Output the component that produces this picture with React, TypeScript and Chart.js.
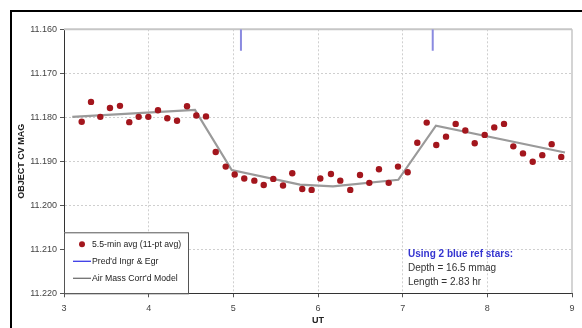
import React, { useEffect, useRef } from "react";
import { Chart, registerables } from "chart.js";
Chart.register(...registerables);

// Observations: UT (hours) and object CV magnitude
const obsUT = [3.209, 3.319, 3.429, 3.543, 3.661, 3.771, 3.882, 3.996, 4.110, 4.220, 4.335, 4.453, 4.563, 4.677, 4.792, 4.910, 5.016, 5.129, 5.248, 5.359, 5.472, 5.587, 5.696, 5.814, 5.925, 6.027, 6.153, 6.263, 6.381, 6.496, 6.606, 6.720, 6.835, 6.945, 7.059, 7.173, 7.284, 7.397, 7.512, 7.626, 7.740, 7.851, 7.969, 8.082, 8.197, 8.307, 8.421, 8.536, 8.649, 8.760, 8.873];
const obsMag = [11.1810, 11.1765, 11.1799, 11.1779, 11.1774, 11.1811, 11.1799, 11.1799, 11.1784, 11.1802, 11.1808, 11.1775, 11.1796, 11.1798, 11.1879, 11.1912, 11.1930, 11.1939, 11.1944, 11.1954, 11.1940, 11.1955, 11.1927, 11.1963, 11.1965, 11.1939, 11.1929, 11.1944, 11.1965, 11.1931, 11.1949, 11.1918, 11.1949, 11.1912, 11.1925, 11.1858, 11.1812, 11.1863, 11.1844, 11.1815, 11.1830, 11.1859, 11.1840, 11.1823, 11.1815, 11.1866, 11.1882, 11.1901, 11.1886, 11.1861, 11.1890];

// Air-mass corrected model
const modelUT = [3.098, 4.547, 4.981, 5.787, 6.177, 6.948, 7.393, 8.917];
const modelMag = [11.1799, 11.1783, 11.1920, 11.1953, 11.1957, 11.1942, 11.1819, 11.1880];

// Predicted ingress / egress markers
const ingrUT = 5.090;
const egrUT = 7.355;
const markMag = [11.160, 11.1649];

// Axis
const xMin = 3, xMax = 9, xStep = 1;
const yMin = 11.160, yMax = 11.220, yStep = 0.01;

const legendLabels = ["5.5-min avg (11-pt avg)", "Pred'd Ingr & Egr", "Air Mass Corr'd Model"];
const noteLines = ["Using 2 blue ref stars:", "Depth = 16.5 mmag", "Length = 2.83 hr"];

const FONT = "'Liberation Sans', Arial, Helvetica, sans-serif";
const RED = "#a3161d";

export default function App() {
  const ref = useRef<HTMLCanvasElement>(null);
  useEffect(() => {
    const canvas = ref.current!;
    const plugin = {
      id: "decor",
      beforeDraw(chart: any) {
        const ctx = chart.ctx;
        ctx.save();
        ctx.fillStyle = "#fff";
        ctx.fillRect(0, 0, chart.width, chart.height);
        ctx.fillStyle = "#000";
        ctx.fillRect(10, 10, chart.width - 10, 2);
        ctx.fillRect(10, 10, 2, chart.height - 10);
        ctx.restore();
      },
      beforeDatasetsDraw(chart: any) {
        const { ctx, chartArea: a } = chart;
        ctx.save();
        ctx.strokeStyle = "#c6c6c6";
        ctx.lineWidth = 2;
        ctx.beginPath();
        ctx.moveTo(a.left, a.top);
        ctx.lineTo(a.right, a.top);
        ctx.stroke();
        ctx.lineWidth = 1.5;
        ctx.beginPath();
        ctx.moveTo(a.right, a.top);
        ctx.lineTo(a.right, a.bottom);
        ctx.stroke();
        ctx.restore();
      },
      afterDraw(chart: any) {
        const { ctx, chartArea: a } = chart;
        ctx.save();
        // legend box
        const bw = 125, bh = 61;
        const bx = a.left, by = a.bottom - bh;
        ctx.fillStyle = "#fff";
        ctx.fillRect(bx, by, bw, bh);
        ctx.strokeStyle = "#555";
        ctx.lineWidth = 1;
        ctx.strokeRect(bx + 0.5, by + 0.5, bw - 1, bh);
        ctx.font = `8.7px ${FONT}`;
        ctx.textBaseline = "middle";
        ctx.textAlign = "left";
        const rows = [by + 12, by + 29, by + 46];
        ctx.fillStyle = RED;
        ctx.beginPath();
        ctx.arc(bx + 18, rows[0], 3, 0, Math.PI * 2);
        ctx.fill();
        ctx.strokeStyle = "#3a3ae6";
        ctx.lineWidth = 1.3;
        ctx.beginPath();
        ctx.moveTo(bx + 9, rows[1]);
        ctx.lineTo(bx + 27, rows[1]);
        ctx.stroke();
        ctx.strokeStyle = "#707070";
        ctx.beginPath();
        ctx.moveTo(bx + 9, rows[2]);
        ctx.lineTo(bx + 27, rows[2]);
        ctx.stroke();
        ctx.fillStyle = "#222";
        legendLabels.forEach((t, i) => ctx.fillText(t, bx + 28, rows[i]));
        // note
        const nx = 408;
        ctx.font = `bold 10px ${FONT}`;
        ctx.fillStyle = "#3434d0";
        ctx.fillText(noteLines[0], nx, 254);
        ctx.font = `10px ${FONT}`;
        ctx.fillStyle = "#333";
        ctx.fillText(noteLines[1], nx, 268);
        ctx.fillText(noteLines[2], nx, 282);
        ctx.restore();
      },
    };

    const edgeX = (v: number) => Math.abs(v - xMin) < 1e-6 || Math.abs(v - xMax) < 1e-6;
    const edgeY = (v: number) => Math.abs(v - yMin) < 1e-6 || Math.abs(v - yMax) < 1e-6;

    const chart = new Chart(canvas, {
      type: "scatter",
      data: {
        datasets: [
          {
            label: legendLabels[0],
            data: obsUT.map((x, i) => ({ x, y: obsMag[i] })),
            showLine: false,
            pointRadius: 3.2,
            pointBackgroundColor: RED,
            pointBorderColor: RED,
            pointBorderWidth: 0,
            order: 0,
          },
          {
            label: legendLabels[2],
            data: modelUT.map((x, i) => ({ x, y: modelMag[i] })),
            showLine: true,
            borderColor: "#9a9a9a",
            borderWidth: 2.2,
            pointRadius: 0,
            order: 1,
          },
          {
            label: legendLabels[1],
            data: markMag.map((y) => ({ x: ingrUT, y })),
            showLine: true,
            borderColor: "#8a8ae0",
            borderWidth: 2,
            pointRadius: 0,
            order: 2,
          },
          {
            label: legendLabels[1] + " (egress)",
            data: markMag.map((y) => ({ x: egrUT, y })),
            showLine: true,
            borderColor: "#8a8ae0",
            borderWidth: 2,
            pointRadius: 0,
            order: 2,
          },
        ],
      },
      options: {
        responsive: false,
        animation: false,
        devicePixelRatio: 1,
        layout: { padding: { left: 12, top: 29.3, right: 10, bottom: 0 } },
        plugins: { legend: { display: false }, tooltip: { enabled: false }, title: { display: false } },
        scales: {
          x: {
            type: "linear",
            min: xMin,
            max: xMax,
            ticks: {
              stepSize: xStep,
              color: "#444",
              font: { family: FONT, size: 9 },
              padding: 6,
              maxRotation: 0,
              callback: (v: any) => String(Math.round(Number(v))),
            },
            grid: {
              color: (c: any) => (c.tick && edgeX(c.tick.value) ? "rgba(0,0,0,0)" : "#cfcfcf"),
              lineWidth: 1,
              tickColor: "#555",
              tickLength: 4,
              tickBorderDash: [],
            },
            border: { display: true, color: "#333", width: 1, dash: [2, 2] },
            title: {
              display: true,
              text: "UT",
              color: "#222",
              font: { family: FONT, size: 9, weight: "bold" },
              padding: { top: 0, bottom: 2 },
            },
            afterFit: (s: any) => {
              s.height = 34.7;
            },
          },
          y: {
            type: "linear",
            reverse: true,
            min: yMin,
            max: yMax,
            ticks: {
              stepSize: yStep,
              color: "#444",
              font: { family: FONT, size: 9 },
              padding: 3,
              callback: (v: any) => Number(v).toFixed(3),
            },
            grid: {
              color: (c: any) => (c.tick && edgeY(c.tick.value) ? "rgba(0,0,0,0)" : "#cfcfcf"),
              lineWidth: 1,
              tickColor: "#555",
              tickLength: 4,
              tickBorderDash: [],
            },
            border: { display: true, color: "#333", width: 1, dash: [2, 2] },
            title: {
              display: true,
              text: "OBJECT CV MAG",
              color: "#222",
              font: { family: FONT, size: 9, weight: "bold" },
              padding: { top: 4, bottom: 0 },
            },
            afterFit: (s: any) => {
              s.width = 52;
            },
          },
        },
      },
      plugins: [plugin],
    } as any);
    return () => chart.destroy();
  }, []);

  return (
    <div style={{ position: "fixed", left: 0, top: 0, width: 582, height: 328, overflow: "hidden", background: "#fff" }}>
      <canvas ref={ref} width={582} height={328} style={{ display: "block", width: 582, height: 328 }} />
    </div>
  );
}
